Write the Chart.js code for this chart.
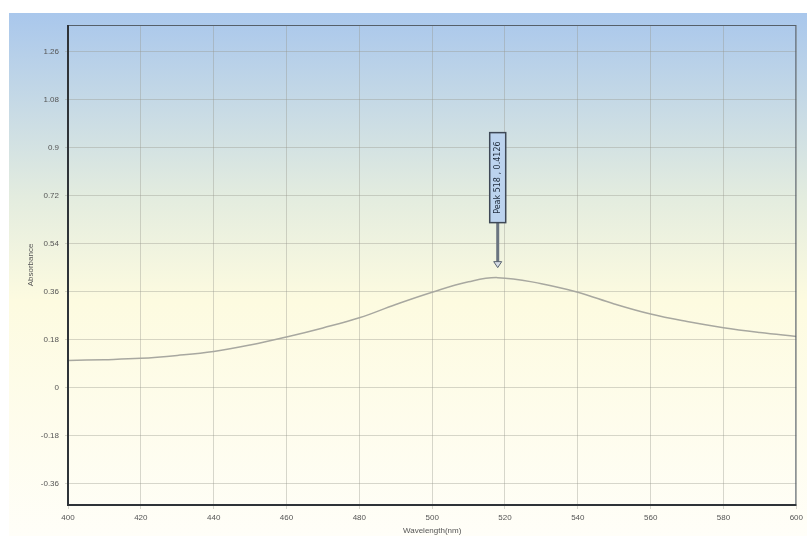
<!DOCTYPE html>
<html>
<head>
<meta charset="utf-8">
<script src="https://cdn.jsdelivr.net/npm/chart.js@4.4.1/dist/chart.umd.min.js"></script>
<style>
  html, body { margin: 0; padding: 0; background: #ffffff; }
  #wrap { position: relative; width: 807px; height: 536px; }
</style>
</head>
<body>
<div id="wrap"><canvas id="absChart" width="807" height="536"></canvas></div>
<script>
// Absorbance spectrum values
const wavelengths = [400, 410, 420, 430, 440, 450, 460, 470, 480, 490, 500, 510, 518, 530, 540, 550, 560, 570, 580, 590, 600];
const absorbance = [0.102, 0.105, 0.110, 0.121, 0.136, 0.160, 0.190, 0.224, 0.262, 0.312, 0.358, 0.397, 0.4126, 0.390, 0.358, 0.314, 0.276, 0.248, 0.225, 0.207, 0.192];
const yTicks = [1.26, 1.08, 0.9, 0.72, 0.54, 0.36, 0.18, 0, -0.18, -0.36];
const yTickLabels = ['1.26', '1.08', '0.9', '0.72', '0.54', '0.36', '0.18', '0', '-0.18', '-0.36'];
const peakWavelength = 518;
const peakValue = 0.4126;
const peakLabel = 'Peak 518 , 0.4126';

// gradient panel behind everything
const panelBackground = {
    id: 'panelBackground',
    beforeDraw(chart) {
        const c = chart.ctx;
        const g = c.createLinearGradient(0, 13, 0, 536);
        g.addColorStop(0, '#a9c7ec');
        g.addColorStop(0.35, '#e3ecdf');
        g.addColorStop(0.55, '#fdfbe0');
        g.addColorStop(1, '#fffef8');
        c.save();
        c.fillStyle = g;
        c.fillRect(9, 13, 798, 523);
        c.restore();
    }
};

// dark frame round the plot area
const plotFrame = {
    id: 'plotFrame',
    afterDatasetsDraw(chart) {
        const a = chart.chartArea;
        const c = chart.ctx;
        c.save();
        c.strokeStyle = '#56606a';
        c.lineWidth = 1;
        c.strokeRect(a.left + 0.5, a.top + 0.5, a.right - a.left - 1, a.bottom - a.top);
        c.strokeStyle = '#2e3338';
        c.lineWidth = 2;
        c.beginPath();
        c.moveTo(a.left, a.top);
        c.lineTo(a.left, a.bottom);
        c.lineTo(a.right, a.bottom);
        c.stroke();
        c.restore();
    }
};

// peak marker: box with rotated text, stem and arrow
const peakMarker = {
    id: 'peakMarker',
    afterDraw(chart) {
        const c = chart.ctx;
        const x = chart.scales.x.getPixelForValue(peakWavelength);
        const y = chart.scales.y.getPixelForValue(peakValue);
        const tip = y - 10;
        const boxBottom = tip - 45;
        const boxTop = boxBottom - 90;
        c.save();
        c.strokeStyle = '#6a7480';
        c.lineWidth = 3;
        c.beginPath();
        c.moveTo(x, boxBottom);
        c.lineTo(x, tip - 5);
        c.stroke();
        c.fillStyle = '#d6dde6';
        c.strokeStyle = '#5a6470';
        c.lineWidth = 1;
        c.beginPath();
        c.moveTo(x - 4, tip - 6);
        c.lineTo(x + 4, tip - 6);
        c.lineTo(x, tip);
        c.closePath();
        c.fill();
        c.stroke();
        c.fillStyle = '#bcd3ee';
        c.fillRect(x - 8, boxTop, 16, boxBottom - boxTop);
        c.strokeStyle = '#3e4856';
        c.lineWidth = 1.5;
        c.strokeRect(x - 8, boxTop, 16, boxBottom - boxTop);
        c.translate(x, (boxTop + boxBottom) / 2);
        c.rotate(-Math.PI / 2);
        c.fillStyle = '#1e2a3a';
        c.font = '8px "DejaVu Sans", sans-serif';
        c.textAlign = 'center';
        c.textBaseline = 'middle';
        c.fillText(peakLabel, 0, 0);
        c.restore();
    }
};

window.addEventListener('DOMContentLoaded', () => {
    const ctx = document.getElementById('absChart').getContext('2d');

    new Chart(ctx, {
        type: 'line',
        data: {
            datasets: [{
                label: 'Absorbance',
                data: wavelengths.map((w, i) => ({ x: w, y: absorbance[i] })),
                borderColor: '#a8a8a0',
                borderWidth: 1.5,
                pointRadius: 0,
                tension: 0.4,
                fill: false
            }]
        },
        options: {
            responsive: false,
            animation: false,
            layout: { padding: { left: 0, right: 9, top: 25, bottom: 0 } },
            plugins: {
                legend: { display: false },
                tooltip: { enabled: false }
            },
            scales: {
                x: {
                    type: 'linear',
                    min: 400,
                    max: 600,
                    ticks: {
                        stepSize: 20,
                        color: '#555',
                        font: { size: 8, family: 'Arial, "Liberation Sans", sans-serif' },
                        padding: 4
                    },
                    grid: { color: 'rgba(150,150,140,0.38)', tickLength: 4, drawTicks: true },
                    border: { display: false },
                    title: {
                        display: true,
                        text: 'Wavelength(nm)',
                        color: '#555',
                        font: { size: 8, family: 'Arial, "Liberation Sans", sans-serif' },
                        padding: { top: 0, bottom: 0 }
                    },
                    afterFit(scale) { scale.height = 31; }
                },
                y: {
                    type: 'linear',
                    min: -0.44,
                    max: 1.36,
                    afterBuildTicks(scale) {
                        scale.ticks = yTicks.map(v => ({ value: v }));
                    },
                    ticks: {
                        color: '#555',
                        font: { size: 8, family: 'Arial, "Liberation Sans", sans-serif' },
                        padding: 6,
                        callback: (v) => {
                            const i = yTicks.findIndex(t => Math.abs(t - v) < 1e-6);
                            return i >= 0 ? yTickLabels[i] : '';
                        }
                    },
                    grid: { color: 'rgba(150,150,140,0.38)', tickLength: 3 },
                    border: { display: false },
                    title: {
                        display: true,
                        text: 'Absorbance',
                        color: '#555',
                        font: { size: 8, family: 'Arial, "Liberation Sans", sans-serif' },
                        padding: { top: 26, bottom: 0 }
                    },
                    afterFit(scale) { scale.width = 68; }
                }
            }
        },
        plugins: [panelBackground, plotFrame, peakMarker]
    });
});
</script>
</body>
</html>
